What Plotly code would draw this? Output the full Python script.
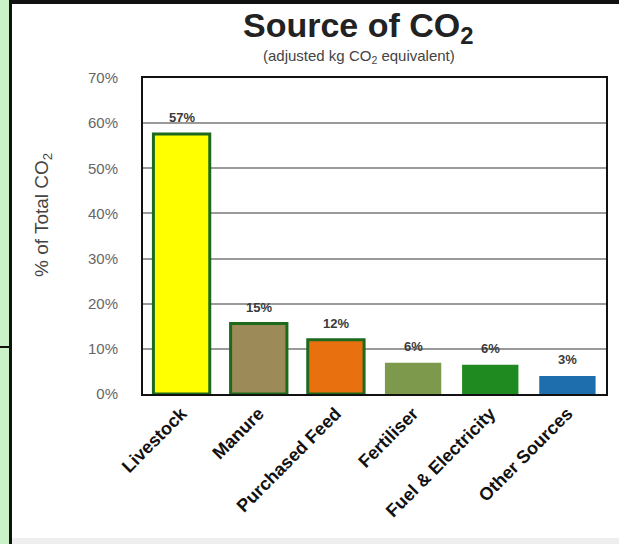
import plotly.graph_objects as go

categories = ["Livestock", "Manure", "Purchased Feed", "Fertiliser", "Fuel & Electricity", "Other Sources"]
values = [57.6, 15.6, 12.0, 6.9, 6.5, 4.0]
labels = ["57%", "15%", "12%", "6%", "6%", "3%"]
colors = ["#FFFF00", "#9C8A58", "#E8700E", "#7D9A4C", "#1F8A1F", "#1E6EAE"]
outline_widths = [3, 3, 3, 0, 0, 0]
y_ticks = [0, 10, 20, 30, 40, 50, 60, 70]
y_tick_text = ["0%", "10%", "20%", "30%", "40%", "50%", "60%", "70%"]

W, H = 619, 544
L, R, T, B = 143, 13, 78, 150
PW, PH = W - L - R, H - T - B

def px(x):
    return (x - L) / PW

def py(y):
    return (H - B - y) / PH

FONT = "Arial, Liberation Sans, sans-serif"

fig = go.Figure()
fig.add_trace(go.Bar(
    x=categories, y=values, width=0.73,
    marker=dict(color=colors, line=dict(color="#1D6A1D", width=outline_widths)),
    hoverinfo="skip",
))

annotations = []
for c, v, t in zip(categories, values, labels):
    annotations.append(dict(x=c, y=v, text="<b>" + t + "</b>", showarrow=False, yanchor="bottom",
                            xanchor="center", yshift=7,
                            font=dict(family=FONT, size=13, color="#3a3a3a")))

annotations += [
    dict(x=px(358), y=py(27), xref="paper", yref="paper", showarrow=False,
         xanchor="center", yanchor="middle",
         text="<b>Source of CO<sub>2</sub></b>", font=dict(family=FONT, size=34, color="#222222")),
    dict(x=px(359), y=py(56), xref="paper", yref="paper", showarrow=False,
         xanchor="center", yanchor="middle",
         text="(adjusted kg CO<sub>2</sub> equivalent)", font=dict(family=FONT, size=15, color="#444444")),
    dict(x=px(43), y=py(215), xref="paper", yref="paper", showarrow=False, textangle=-90,
         xanchor="center", yanchor="middle",
         text="% of Total CO<sub>2</sub>", font=dict(family=FONT, size=19, color="#444444")),
]

shapes = [
    dict(type="rect", xref="paper", yref="paper", x0=px(0), x1=px(9), y0=py(544), y1=py(0),
         fillcolor="#C9F2C9", line=dict(width=0), layer="below"),
    dict(type="line", xref="paper", yref="paper", x0=px(10.5), x1=px(10.5), y0=py(544), y1=py(0),
         line=dict(color="#111111", width=3)),
    dict(type="line", xref="paper", yref="paper", x0=px(9), x1=px(619), y0=py(2), y1=py(2),
         line=dict(color="#111111", width=4)),
    dict(type="line", xref="paper", yref="paper", x0=px(0), x1=px(12), y0=py(347), y1=py(347),
         line=dict(color="#111111", width=2)),
    dict(type="rect", xref="paper", yref="paper", x0=px(12), x1=px(619), y0=py(544), y1=py(538),
         fillcolor="#EEEEEE", line=dict(width=0), layer="below"),
]

fig.update_layout(
    width=W, height=H,
    margin=dict(l=L, r=R, t=T, b=B),
    paper_bgcolor="white", plot_bgcolor="white",
    showlegend=False,
    font=dict(family=FONT),
    bargap=0.27,
    annotations=annotations,
    shapes=shapes,
    xaxis=dict(
        tickangle=-45, tickfont=dict(family=FONT, size=18, color="#111111", weight="bold"),
        showline=True, linecolor="#111111", linewidth=2, mirror=True,
        showgrid=False, ticks="", fixedrange=True,
    ),
    yaxis=dict(
        range=[0, 70], tickvals=y_ticks, ticktext=y_tick_text,
        tickfont=dict(family=FONT, size=15, color="#666666"),
        ticklabelstandoff=20,
        showline=True, linecolor="#111111", linewidth=2, mirror=True,
        showgrid=True, gridcolor="#9A9A9A", gridwidth=2,
        zeroline=False, ticks="", fixedrange=True,
    ),
)

fig.write_html("out.html")
